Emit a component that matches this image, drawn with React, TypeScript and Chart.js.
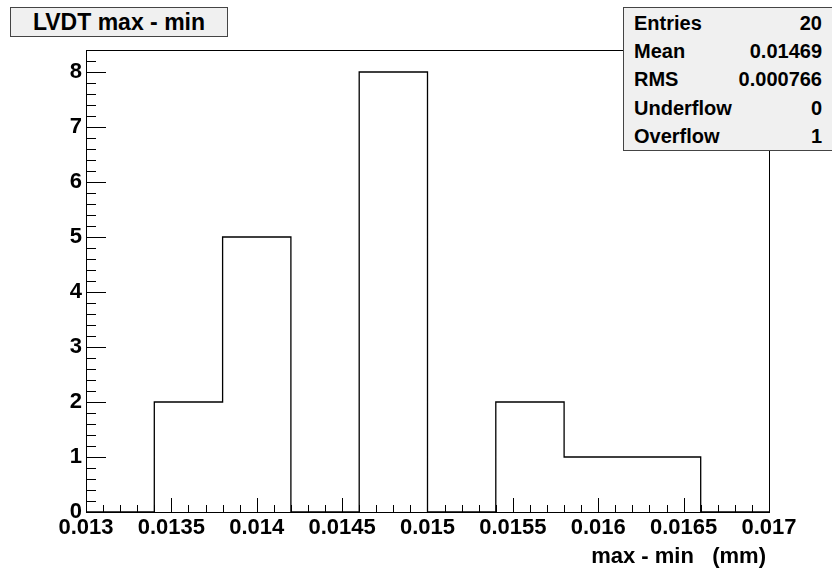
import React, { useEffect, useRef } from "react";
import { Chart, registerables } from "chart.js";

Chart.register(...registerables);

// ---- data ----
const binEdges = [0.013, 0.0134, 0.0138, 0.0142, 0.0146, 0.015, 0.0154, 0.0158, 0.0162, 0.0166, 0.017];
const binCounts = [0, 2, 5, 0, 8, 0, 2, 1, 1, 0];
const xTickValues = [0.013, 0.0135, 0.014, 0.0145, 0.015, 0.0155, 0.016, 0.0165, 0.017];
const xTickLabels = ["0.013", "0.0135", "0.014", "0.0145", "0.015", "0.0155", "0.016", "0.0165", "0.017"];
const yTickValues = [0, 1, 2, 3, 4, 5, 6, 7, 8];
const yTickLabels = ["0", "1", "2", "3", "4", "5", "6", "7", "8"];
const yMax = 8.4;
const titleText = "LVDT max - min";
const xAxisTitle = "max - min   (mm)";
const statsNames = ["Entries", "Mean", "RMS", "Underflow", "Overflow"];
const statsValues = ["20", "0.01469", "0.000766", "0", "1"];

const FONT = '"Liberation Sans", Arial, Helvetica, sans-serif';

const framePlugin = {
  id: "rootFrame",
  afterDraw(chart: any) {
    const { ctx, chartArea, scales } = chart;
    const { left, right, top, bottom } = chartArea;
    const x = scales.x;
    const y = scales.y;
    ctx.save();
    ctx.strokeStyle = "#000";
    ctx.lineWidth = 1;
    ctx.beginPath();
    // x ticks (inside)
    const xDiv = 5;
    for (let i = 0; i < xTickValues.length; i++) {
      const px = Math.round(x.getPixelForValue(xTickValues[i])) + 0.5;
      ctx.moveTo(px, bottom);
      ctx.lineTo(px, bottom - 14);
      if (i < xTickValues.length - 1) {
        const step = (xTickValues[i + 1] - xTickValues[i]) / xDiv;
        for (let k = 1; k < xDiv; k++) {
          const p = Math.round(x.getPixelForValue(xTickValues[i] + k * step)) + 0.5;
          ctx.moveTo(p, bottom);
          ctx.lineTo(p, bottom - 7);
        }
      }
    }
    // y ticks (inside)
    const yDiv = 5;
    for (let i = 0; i < yTickValues.length; i++) {
      const py = Math.round(y.getPixelForValue(yTickValues[i])) + 0.5;
      ctx.moveTo(left, py);
      ctx.lineTo(left + 20, py);
      const step = 1 / yDiv;
      for (let k = 1; k < yDiv; k++) {
        const v = yTickValues[i] + k * step;
        if (v >= yMax - 1e-9) break;
        const p = Math.round(y.getPixelForValue(v)) + 0.5;
        ctx.moveTo(left, p);
        ctx.lineTo(left + 10, p);
      }
    }
    ctx.stroke();
    // frame
    ctx.strokeRect(Math.round(left) + 0.5, Math.round(top) + 0.5, Math.round(right - left), Math.round(bottom - top));
    // axis title
    ctx.fillStyle = "#000";
    ctx.font = `bold 22px ${FONT}`;
    ctx.textAlign = "right";
    ctx.textBaseline = "alphabetic";
    ctx.fillText(xAxisTitle, right - 3, 563);
    ctx.restore();
  },
};

export default function App() {
  const canvasRef = useRef<HTMLCanvasElement | null>(null);

  useEffect(() => {
    document.body.style.margin = "0";
    const canvas = canvasRef.current;
    if (!canvas) return;
    const points = binEdges.map((e, i) => ({ x: e, y: i < binCounts.length ? binCounts[i] : 0 }));
    const chart = new Chart(canvas, {
      type: "line",
      data: {
        datasets: [
          {
            data: points,
            stepped: "before",
            borderColor: "#000",
            borderWidth: 1.3,
            pointRadius: 0,
            fill: false,
          } as any,
        ],
      },
      options: {
        animation: false,
        responsive: false,
        devicePixelRatio: 1,
        layout: { padding: { top: 50, right: 63, left: 0, bottom: 0 } },
        plugins: { legend: { display: false }, tooltip: { enabled: false } },
        scales: {
          x: {
            type: "linear",
            min: 0.013,
            max: 0.017,
            grid: { display: false, drawTicks: false },
            border: { display: false },
            afterBuildTicks: (scale: any) => {
              scale.ticks = xTickValues.map((v) => ({ value: v }));
            },
            afterFit: (scale: any) => {
              scale.height = 59;
            },
            ticks: {
              autoSkip: false,
              maxRotation: 0,
              minRotation: 0,
              padding: 3,
              color: "#000",
              font: { family: FONT, size: 22, weight: "bold" },
              callback: (_v: any, i: number) => xTickLabels[i],
            },
          },
          y: {
            type: "linear",
            min: 0,
            max: yMax,
            grid: { display: false, drawTicks: false },
            border: { display: false },
            afterBuildTicks: (scale: any) => {
              scale.ticks = yTickValues.map((v) => ({ value: v }));
            },
            afterFit: (scale: any) => {
              scale.width = 86;
            },
            ticks: {
              autoSkip: false,
              padding: 4,
              color: "#000",
              font: { family: FONT, size: 22, weight: "bold" },
              callback: (_v: any, i: number) => yTickLabels[i],
            },
          },
        },
      },
      plugins: [framePlugin],
    });
    return () => chart.destroy();
  }, []);

  return (
    <div style={{ position: "relative", width: 832, height: 571, background: "#fff", overflow: "hidden" }}>
      <canvas ref={canvasRef} width={832} height={571} style={{ display: "block", width: 832, height: 571 }} />
      <div
        style={{
          position: "absolute",
          left: 10,
          top: 7,
          width: 218,
          height: 30,
          boxSizing: "border-box",
          background: "#f0f0f0",
          border: "1px solid #444",
          paddingTop: 1,
          textAlign: "center",
          font: `bold 23px ${FONT}`,
          lineHeight: "27px",
          color: "#000",
        }}
      >
        {titleText}
      </div>
      <div
        style={{
          position: "absolute",
          left: 623,
          top: 7,
          width: 212,
          height: 144,
          boxSizing: "border-box",
          background: "#f0f0f0",
          border: "1px solid #444",
          padding: "1px 12px 0 10px",
          font: `bold 20px ${FONT}`,
          color: "#000",
        }}
      >
        {statsNames.map((n, i) => (
          <div
            key={n}
            style={{ display: "flex", justifyContent: "space-between", height: 28.2, lineHeight: "28.2px" }}
          >
            <span>{n}</span>
            <span>{statsValues[i]}</span>
          </div>
        ))}
      </div>
    </div>
  );
}
